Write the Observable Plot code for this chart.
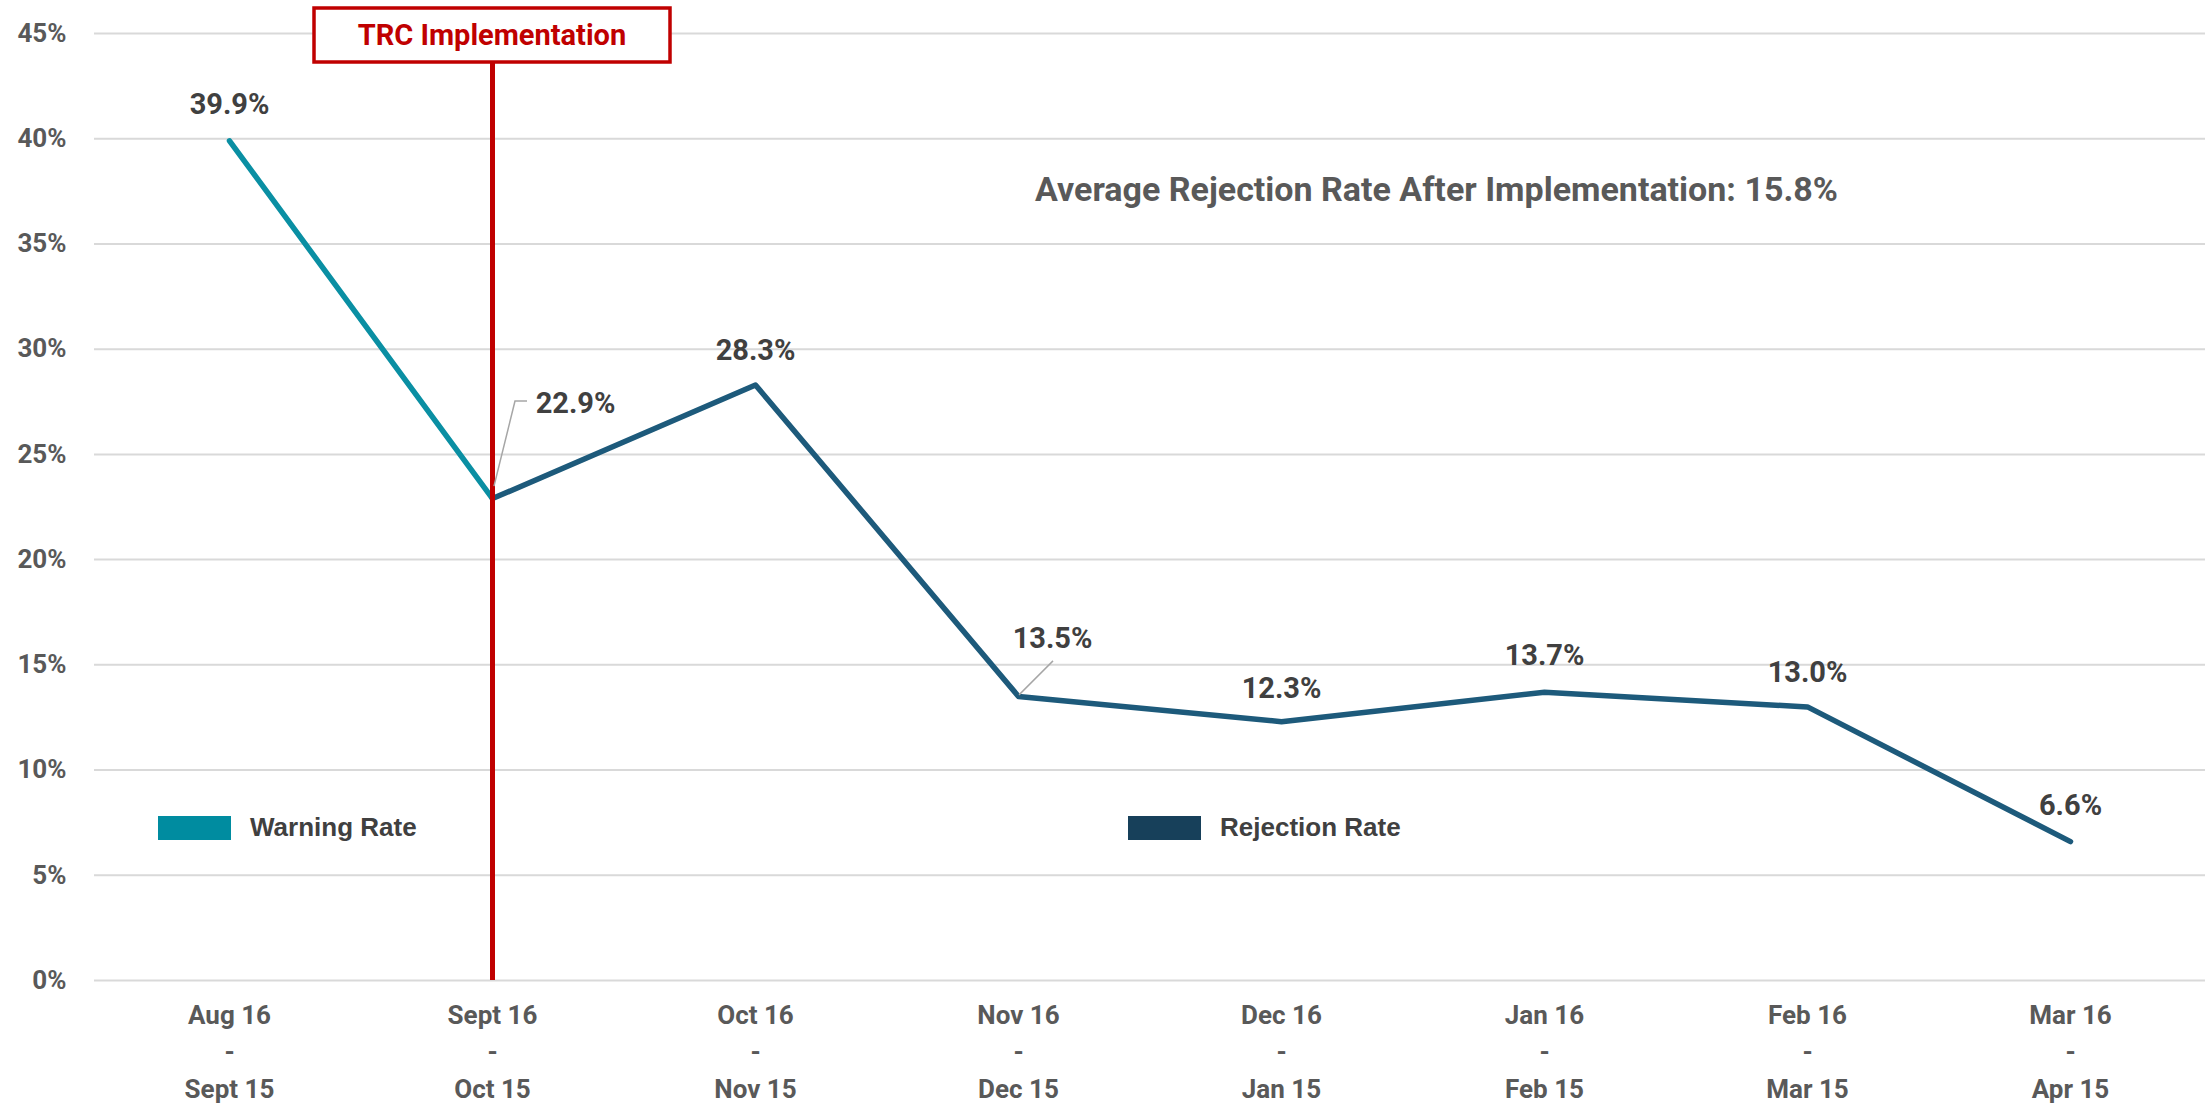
<!DOCTYPE html>
<html><head><meta charset="utf-8">
<script src="https://cdn.jsdelivr.net/npm/d3@7"></script>
<script src="https://cdn.jsdelivr.net/npm/@observablehq/plot@0.6"></script>
<style>
html,body{margin:0;padding:0;background:#fff;}
#chart{position:relative;width:2205px;height:1105px;overflow:hidden;}
.legend-item{position:absolute;display:flex;align-items:center;font-family:"Liberation Sans",Arial,sans-serif;font-weight:bold;font-size:26px;color:#404040;}
.legend-item .sw{width:73px;height:24px;margin-right:19px;}
</style></head><body><div id="chart"></div>
<script>
// ---- data ----
const periodStart = ["Aug 16", "Sept 16", "Oct 16", "Nov 16", "Dec 16", "Jan 16", "Feb 16", "Mar 16"];
const periodEnd   = ["Sept 15", "Oct 15", "Nov 15", "Dec 15", "Jan 15", "Feb 15", "Mar 15", "Apr 15"];
const warningRate   = [39.9, 22.9, null, null, null, null, null, null];
const rejectionRate = [null, 22.9, 28.3, 13.5, 12.3, 13.7, 13.0, 6.6];
const yTicks = [0, 5, 10, 15, 20, 25, 30, 35, 40, 45];
const implementationIndex = 1;
const seriesNames = ["Warning Rate", "Rejection Rate"];
// label nudges (px, relative to the point)
const labelDx = [0, 83, 0, 34, 0, 0, 0, 0];
const labelBaseline = [-27, -86, -25, -48, -24, -27, -25, -27];

// ---- build ----
const categories = periodStart.map((s, i) => `${s}\n-\n${periodEnd[i]}`);
const warningRows = categories.map((c, i) => ({category: c, value: warningRate[i]})).filter(d => d.value != null);
const rejectionRows = categories.map((c, i) => ({category: c, value: rejectionRate[i]})).filter(d => d.value != null);
const labelRows = categories.map((c, i) => ({category: c, value: rejectionRate[i] ?? warningRate[i], i}));
const after = rejectionRate.filter(v => v != null);
const avg = d3.mean(after);
const avgText = `Average Rejection Rate After Implementation: ${avg.toFixed(1)}%`;

const colWarning = "#0a8fa3", colReject = "#1d5a7b", colRed = "#c00000";
const fontFamily = 'Roboto, "Liberation Sans", sans-serif';
const labelSize = 29;

const labelMarks = labelRows.map(d => Plot.text([d], {
  x: "category", y: "value", text: r => r.value.toFixed(1) + "%",
  dx: labelDx[d.i], dy: labelBaseline[d.i] - 0.32 * labelSize,
  fontSize: labelSize, fontWeight: "bold", fill: "#404040", textAnchor: "middle", lineAnchor: "middle"
}));

const plot = Plot.plot({
  width: 2205, height: 1105,
  marginLeft: 94, marginRight: 0, marginTop: 33, marginBottom: 125,
  style: {fontFamily, background: "white", overflow: "visible"},
  x: {type: "point", domain: categories, padding: 0.5, label: null},
  y: {domain: [0, 45], label: null},
  marks: [
    Plot.gridY(yTicks, {stroke: "#d9d9d9", strokeOpacity: 1, strokeWidth: 2}),
    Plot.axisY({ticks: yTicks, tickSize: 0, tickPadding: 28, tickFormat: d => d + "%", fontSize: 26, fontWeight: "bold", fill: "#595959", label: null}),
    Plot.axisX({tickSize: 0, tickPadding: 17, fontSize: 26, fontWeight: "bold", fill: "#595959", lineHeight: 1.42, label: null}),
    Plot.line(warningRows, {x: "category", y: "value", stroke: colWarning, strokeWidth: 5.5, strokeLinecap: "round", strokeLinejoin: "round"}),
    Plot.line(rejectionRows, {x: "category", y: "value", stroke: colReject, strokeWidth: 5.5, strokeLinecap: "round", strokeLinejoin: "round"}),
    Plot.ruleX([categories[implementationIndex]], {y1: 0, y2: 45, stroke: colRed, strokeWidth: 5}),
    ...labelMarks,
    Plot.text([avgText], {frameAnchor: "top-left", dx: 1342, dy: 143, lineAnchor: "top", fontSize: 34, fontWeight: "bold", fill: "#595959", textAnchor: "middle"})
  ]
});

const chart = document.getElementById("chart");
chart.appendChild(plot);

// ---- annotations ----
const sx = plot.scale("x"), sy = plot.scale("y");
const svg = d3.select(plot);
const cx = sx.apply(categories[implementationIndex]);
const ann = svg.append("g");
// leader lines
function leader(i, pts) {
  const px = sx.apply(categories[i]), py = sy.apply(labelRows[i].value);
  ann.append("polyline")
    .attr("points", pts.map(([dx, dy]) => `${px + dx},${py + dy}`).join(" "))
    .attr("fill", "none").attr("stroke", "#a6a6a6").attr("stroke-width", 1.5);
}
leader(1, [[2, -12], [23, -97], [35, -97]]);
leader(3, [[1, -1], [35, -35]]);
// TRC box
ann.append("rect").attr("x", cx - 178).attr("y", 8).attr("width", 356).attr("height", 54)
  .attr("fill", "white").attr("stroke", colRed).attr("stroke-width", 3.5);
ann.append("text").attr("x", cx).attr("y", 35).attr("dy", "0.35em").attr("text-anchor", "middle")
  .attr("font-size", 29).attr("font-weight", "bold").attr("fill", colRed).attr("font-family", fontFamily)
  .text("TRC Implementation");

// ---- legend ----
const legendItems = [
  {name: seriesNames[0], color: "#008ca0", left: 158},
  {name: seriesNames[1], color: "#17405a", left: 1128}
];
legendItems.forEach(it => {
  const div = document.createElement("div");
  div.className = "legend-item";
  div.style.left = it.left + "px";
  div.style.top = "812px";
  div.innerHTML = `<span class="sw" style="background:${it.color}"></span><span>${it.name}</span>`;
  chart.appendChild(div);
});
</script></body></html>
